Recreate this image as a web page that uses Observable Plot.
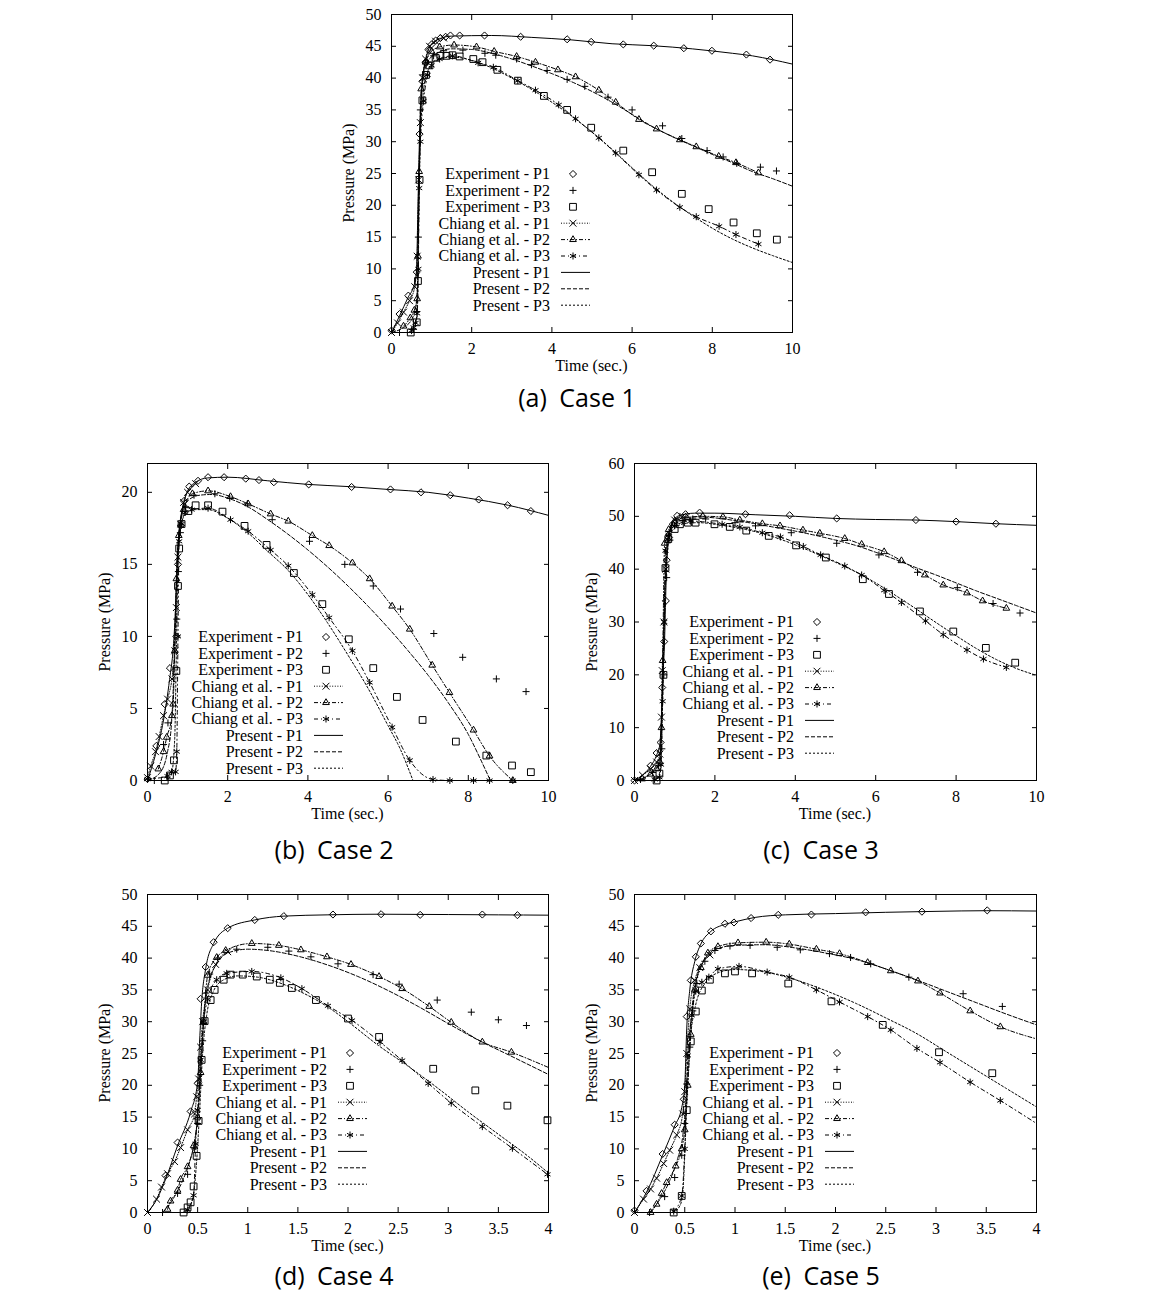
<!DOCTYPE html>
<html><head><meta charset="utf-8">
<script src="https://cdn.jsdelivr.net/npm/d3@7"></script>
<script src="https://cdn.jsdelivr.net/npm/@observablehq/plot@0.6"></script>
<style>
body{margin:0;background:#fff;}
#root{position:relative;width:1149px;height:1301px;overflow:hidden;background:#fff;}
.panel{position:absolute;}
.lab{position:absolute;font-family:"Liberation Serif",serif;font-size:16px;color:#000;white-space:nowrap;}
.cap{position:absolute;font-family:"Open Sans",sans-serif;font-size:25px;color:#000;white-space:nowrap;transform:translate(-50%,-50%);}
</style></head>
<body><div id="root"></div>
<script>
// ---------- tick values ----------
const ticksX10 = [0, 2, 4, 6, 8, 10];
const ticksX4 = [0, 0.5, 1, 1.5, 2, 2.5, 3, 3.5, 4];
const ticksY50 = [0, 5, 10, 15, 20, 25, 30, 35, 40, 45, 50];
const ticksY20 = [0, 5, 10, 15, 20];
const ticksY60 = [0, 10, 20, 30, 40, 50, 60];

const legendLabels = ["Experiment - P1", "Experiment - P2", "Experiment - P3",
  "Chiang et al. - P1", "Chiang et al. - P2", "Chiang et al. - P3",
  "Present - P1", "Present - P2", "Present - P3"];
const captions = ["(a)\u2002Case 1", "(b)\u2002Case 2", "(c)\u2002Case 3", "(d)\u2002Case 4", "(e)\u2002Case 5"];
const xLabel = "Time (sec.)";
const yLabel = "Pressure (MPa)";

// ---------- Case 1 : [time (s), pressure (MPa)] ----------
const c1ExpP1 = [[0,0.3],[0.2,2.9],[0.42,5.8],[0.63,9.5],[0.7,31.2],[0.77,39.5],[0.85,42.5],[0.92,44.5],[1.0,45.3],[1.1,45.9],[1.22,46.3],[1.35,46.5],[1.47,46.7],[1.7,46.7],[2.32,46.7],[3.22,46.5],[4.38,46.1],[4.98,45.7],[5.78,45.3],[6.54,45.1],[7.29,44.7],[7.99,44.3],[8.85,43.7],[9.44,42.9]];
const c1ExpP2 = [[0.2,0],[0.55,0.5],[0.63,3.3],[0.67,15],[0.72,35],[0.78,40.5],[0.9,42.5],[1.05,43.5],[1.3,44.3],[1.78,44.4],[2.33,43.9],[2.6,43.6],[3.12,43.0],[3.49,42.1],[3.88,41.2],[4.38,39.8],[4.82,38.7],[5.4,37.0],[6.0,35.0],[6.76,32.5],[7.24,30.5],[7.87,28.6],[8.27,27.6],[8.61,26.6],[9.2,26.0],[9.6,25.4]];
const c1ExpP3 = [[0.48,0],[0.63,1.6],[0.66,8.1],[0.7,24],[0.77,36.5],[0.86,40.5],[0.95,42],[1.1,43.2],[1.22,43.5],[1.37,43.5],[1.52,43.6],[1.7,43.4],[2.04,43.0],[2.27,42.5],[2.64,41.3],[3.15,39.6],[3.8,37.2],[4.38,35.0],[4.98,32.2],[5.78,28.6],[6.5,25.2],[7.24,21.8],[7.91,19.4],[8.53,17.3],[9.11,15.6],[9.61,14.6]];
const c1ChiP1 = [[0,0],[0.15,1.5],[0.3,3.2],[0.45,5.0],[0.58,7.2],[0.64,12],[0.68,24],[0.72,33],[0.78,40],[0.85,43],[0.95,45],[1.1,45.8],[1.3,46.3]];
const c1ChiP2 = [[0.3,1.0],[0.47,2.3],[0.57,3.5],[0.64,5.3],[0.66,12],[0.69,25.3],[0.74,38.3],[0.85,42.5],[1.0,44.2],[1.2,44.9],[1.56,45.2],[2.12,44.9],[2.56,44.2],[3.12,43.4],[3.59,42.5],[4.15,41.3],[4.59,40.2],[5.17,38.1],[5.59,36.2],[6.17,33.5],[6.61,32.0],[7.19,30.3],[7.6,29.2],[8.16,27.7],[8.59,26.7],[9.15,25.1]];
const c1ChiP3 = [[0.5,0.3],[0.55,0.8],[0.6,1.5],[0.64,3],[0.67,10],[0.69,22.7],[0.72,30],[0.8,36.4],[0.9,40.5],[1.0,42],[1.2,43],[1.52,43.5],[2.16,42.4],[2.54,41.7],[3.15,39.6],[3.59,38.1],[4.17,35.8],[4.59,33.6],[5.17,30.6],[5.59,28.2],[6.17,24.8],[6.61,22.4],[7.19,19.7],[7.6,18.2],[8.17,16.7],[8.59,15.4],[9.15,13.9]];
const c1PreP1 = [[0,0],[0.2,2.6],[0.42,5.6],[0.55,7.2],[0.62,9.2],[0.66,20],[0.7,31],[0.76,39],[0.84,42.4],[0.92,44.4],[1.0,45.3],[1.2,46.2],[1.5,46.6],[2.5,46.7],[3.5,46.4],[4.5,46.0],[5.5,45.4],[6.5,45.1],[7.5,44.6],[8.5,43.9],[9.0,43.5],[9.5,42.9],[10,42.2]];
const c1PreP2 = [[0,0],[0.3,0.8],[0.5,2],[0.6,3.8],[0.65,8],[0.68,20],[0.72,33],[0.78,39.5],[0.9,42.5],[1.1,43.8],[1.5,44.6],[2,44.5],[2.5,43.9],[3,43.0],[3.5,41.9],[4,40.7],[4.5,39.4],[5,37.9],[5.5,36.2],[6,34.3],[6.5,32.4],[7,30.8],[7.5,29.4],[8,28.0],[8.5,26.7],[9,25.3],[9.5,24.2],[10,23.0]];
const c1PreP3 = [[0.45,0],[0.6,1],[0.65,5],[0.68,18],[0.72,30],[0.78,37],[0.9,41],[1.1,42.8],[1.5,43.3],[2,42.8],[2.5,41.6],[3,40.0],[3.5,38.2],[4,36.2],[4.5,34.0],[5,31.5],[5.5,28.8],[6,25.9],[6.5,23.1],[7,20.6],[7.5,18.4],[8,16.4],[8.5,14.7],[9,13.3],[9.5,12.1],[10,11.0]];

// ---------- Case 2 ----------
const c2ExpP1 = [[0,0.1],[0.22,2.4],[0.43,5.3],[0.56,7.8],[0.72,10.0],[0.76,15.0],[0.83,17.7],[0.91,19.4],[1.04,20.4],[1.26,20.8],[1.51,21.05],[1.91,21.05],[2.45,20.95],[2.78,20.85],[3.15,20.7],[4.02,20.55],[5.09,20.37],[6.06,20.2],[6.82,20.0],[7.55,19.8],[8.26,19.5],[8.98,19.1],[9.56,18.7]];
const c2ExpP2 = [[0.17,0],[0.4,2.5],[0.51,4.0],[0.73,11.2],[0.77,14.5],[0.82,17.2],[0.95,19.0],[1.16,19.8],[1.68,19.9],[2.05,19.6],[2.49,19.2],[3.11,18.1],[4.04,16.6],[4.92,15.0],[5.63,13.5],[6.31,11.9],[7.14,10.2],[7.86,8.55],[8.7,7.05],[9.44,6.17]];
const c2ExpP3 = [[0.43,0],[0.56,0.35],[0.66,1.4],[0.72,7.6],[0.76,13.5],[0.79,16.1],[0.85,17.8],[1.02,18.7],[1.2,19.1],[1.51,19.1],[1.87,18.66],[2.42,17.67],[2.97,16.35],[3.65,14.4],[4.36,12.24],[5.02,9.8],[5.63,7.8],[6.22,5.8],[6.86,4.2],[7.69,2.7],[8.45,1.73],[9.09,1.04],[9.56,0.58],[10,0.46]];
const c2ChiP1 = [[0,0.2],[0.08,1.0],[0.2,2.0],[0.29,3.05],[0.4,4.5],[0.5,5.65],[0.61,7.05],[0.68,9],[0.72,12],[0.76,15.5],[0.82,17.8],[0.9,19.3],[1.0,20.0],[1.2,20.6]];
const c2ChiP2 = [[0.27,0.8],[0.4,2.0],[0.48,3.0],[0.61,4.5],[0.64,5.3],[0.68,9],[0.72,14],[0.78,17],[0.9,18.8],[1.12,19.9],[1.51,20.1],[2.07,19.7],[2.51,19.2],[3.07,18.5],[3.51,18.0],[4.11,17.0],[4.53,16.3],[5.11,15.1],[5.54,14.0],[6.1,12.1],[6.54,10.5],[7.1,8.0],[7.53,6.1],[8.13,3.5],[8.53,1.7],[9.11,0]];
const c2ChiP3 = [[0,0.1],[0.5,0.3],[0.6,0.6],[0.7,0.6],[0.73,2],[0.76,10],[0.79,16.6],[0.85,17.8],[0.94,18.6],[1.1,18.8],[1.51,18.9],[2.07,18.1],[2.51,17.3],[3.07,16.0],[3.51,14.9],[4.11,12.9],[4.53,11.3],[5.11,9.0],[5.54,6.8],[6.1,3.7],[6.54,1.4],[7.12,0.07],[7.54,0],[8.13,0],[8.53,0],[9.11,0]];
const c2PreP1 = [[0,0],[0.2,1.8],[0.4,4.2],[0.55,7],[0.65,9.5],[0.7,12],[0.74,15],[0.8,17.5],[0.9,19.2],[1.0,20.1],[1.2,20.7],[1.5,21.0],[2,21.05],[3,20.8],[4,20.55],[5,20.4],[6,20.2],[7,20.0],[8,19.6],[9,19.1],[10,18.4]];
const c2PreP2 = [[0,0],[0.3,0.5],[0.5,2],[0.6,4],[0.65,7],[0.7,12],[0.75,16],[0.85,18.5],[1.0,19.4],[1.3,19.8],[1.6,19.85],[2,19.6],[2.5,19.0],[3,18.1],[3.5,17.1],[4,16.0],[4.5,14.8],[5,13.5],[5.5,12.1],[6,10.6],[6.5,9.0],[7,7.3],[7.5,5.4],[8,3.2],[8.3,1.5],[8.55,0]];
const c2PreP3 = [[0.45,0],[0.6,0.5],[0.68,3],[0.72,9],[0.76,15],[0.82,17.5],[0.95,18.5],[1.2,18.8],[1.5,18.8],[2,18.2],[2.5,17.2],[3,15.9],[3.5,14.6],[4,12.9],[4.5,10.9],[5,8.7],[5.5,6.4],[6,3.8],[6.3,2.2],[6.62,0]];

// ---------- Case 3 ----------
const c3ExpP1 = [[0,0],[0.4,2.8],[0.55,5.2],[0.65,7.2],[0.69,17.6],[0.74,26.3],[0.78,34],[0.8,41.7],[0.86,46],[0.95,48.5],[1.06,50.1],[1.27,50.4],[1.62,50.7],[2.76,50.4],[3.86,50.2],[5.03,49.6],[7.0,49.3],[8.0,49.0],[8.99,48.6]];
const c3ExpP2 = [[0.15,0.2],[0.45,1.5],[0.6,2.8],[0.68,6],[0.73,20],[0.8,38.4],[0.88,45.5],[1.0,48.3],[1.2,49.2],[1.45,49.5],[1.77,49.5],[2.5,48.8],[3.01,48.2],[3.9,46.9],[5.03,44.9],[6.08,42.7],[7.04,39.4],[8.03,36.5],[8.92,33.5],[9.59,31.7]];
const c3ExpP3 = [[0.55,0],[0.62,1.3],[0.72,20.0],[0.77,40.2],[0.84,45.7],[1.0,47.6],[1.13,48.5],[1.33,48.8],[1.52,48.8],[1.99,48.5],[2.37,48.0],[2.78,47.3],[3.34,46.3],[4.02,44.5],[4.76,42.2],[5.68,38.1],[6.33,35.3],[7.1,32.0],[7.93,28.2],[8.74,25.1],[9.47,22.3]];
const c3ChiP1 = [[0,0],[0.2,1],[0.4,2.2],[0.55,3.5],[0.63,5],[0.67,12],[0.69,20.8],[0.73,30],[0.78,40],[0.85,46],[1.0,49.3],[1.2,50]];
const c3ChiP2 = [[0.19,0.3],[0.4,1.2],[0.55,2.2],[0.63,3.5],[0.67,10],[0.7,22.7],[0.75,44.9],[0.85,47.5],[1.0,49.1],[1.3,49.7],[1.7,50.0],[2.2,49.9],[2.62,49.3],[3.18,48.6],[3.62,48.2],[4.19,47.4],[4.61,46.8],[5.23,45.8],[5.65,44.7],[6.21,43.3],[6.64,41.6],[7.22,38.9],[7.68,37.0],[8.27,35.5],[8.66,34.0],[9.25,32.6]];
const c3ChiP3 = [[0.5,0.2],[0.62,0.6],[0.66,3],[0.7,15],[0.74,30],[0.77,43.5],[0.85,46.5],[1.0,48.2],[1.39,49.1],[2.18,48.5],[2.62,48.0],[3.18,46.9],[3.63,46.1],[4.2,44.3],[4.63,42.7],[5.23,40.6],[5.65,38.9],[6.21,36.0],[6.64,33.7],[7.24,30.2],[7.68,27.6],[8.27,24.7],[8.68,23.0],[9.25,21.4]];
const c3PreP1 = [[0,0],[0.2,1],[0.4,2.7],[0.55,4.8],[0.63,6.8],[0.67,12],[0.71,20],[0.75,27],[0.78,36],[0.81,42],[0.86,46],[0.95,48.8],[1.1,50.1],[1.5,50.6],[2,50.6],[3,50.3],[4,50.0],[5,49.6],[6,49.4],[7,49.3],[8,49.0],[9,48.6],[10,48.3]];
const c3PreP2 = [[0,0],[0.3,0.8],[0.55,2.5],[0.63,4],[0.67,10],[0.71,22],[0.75,35],[0.8,44],[0.9,48],[1.0,49.3],[1.3,49.8],[1.6,49.9],[2,49.7],[2.5,49.2],[3,48.6],[3.5,47.9],[4,47.2],[4.5,46.4],[5,45.5],[5.5,44.5],[6,43.2],[6.5,41.8],[7,40.3],[7.5,38.9],[8,37.4],[8.5,35.9],[9,34.5],[9.5,33.1],[10,31.7]];
const c3PreP3 = [[0.5,0],[0.6,0.8],[0.66,4],[0.7,15],[0.74,30],[0.78,40],[0.85,45.5],[1.0,47.8],[1.3,48.7],[1.6,48.8],[2,48.5],[2.5,47.9],[3,47.1],[3.5,46.0],[4,44.6],[4.5,43.0],[5,41.3],[5.5,39.5],[6,37.4],[6.5,35.0],[7,32.5],[7.5,29.9],[8,27.4],[8.5,25.0],[9,22.9],[9.5,21.2],[10,19.9]];

// ---------- Case 4 ----------
const c4ExpP1 = [[0.18,5.8],[0.3,11.0],[0.43,15.9],[0.5,20.3],[0.53,33.6],[0.58,38.6],[0.66,42.5],[0.8,44.7],[1.07,46.0],[1.36,46.6],[1.85,46.85],[2.33,46.9],[2.72,46.8],[3.34,46.85],[3.69,46.75]];
const c4ExpP2 = [[0.15,0],[0.3,3],[0.4,6],[0.47,10],[0.5,14],[0.52,20],[0.55,27],[0.58,34.5],[0.62,37.5],[0.7,40],[0.89,41.4],[1.2,41.7],[1.41,41.1],[1.63,40.2],[1.9,39.1],[2.25,37.4],[2.51,35.9],[2.89,33.4],[3.23,31.5],[3.5,30.3],[3.78,29.4]];
const c4ExpP3 = [[0.36,0],[0.4,0.8],[0.43,1.6],[0.46,4.1],[0.49,8.9],[0.51,14.4],[0.54,24.0],[0.57,30.1],[0.63,33.4],[0.67,35.0],[0.76,36.6],[0.83,37.4],[0.95,37.4],[1.09,37.1],[1.22,36.6],[1.32,36.1],[1.44,35.3],[1.68,33.4],[2.0,30.5],[2.31,27.6],[2.85,22.6],[3.27,19.2],[3.59,16.8],[3.99,14.5]];
const c4ChiP1 = [[0,0],[0.09,2.1],[0.14,4.0],[0.2,6.1],[0.27,8.0],[0.33,10.2],[0.4,13.0],[0.47,15.5],[0.49,18.2],[0.51,21],[0.53,26],[0.55,30],[0.6,35],[0.68,39],[0.8,41]];
const c4ChiP2 = [[0.2,0.5],[0.23,1.8],[0.3,3.5],[0.33,5.2],[0.4,7.2],[0.46,10.5],[0.5,15],[0.53,22],[0.56,30],[0.6,37.3],[0.69,40.1],[0.78,41.2],[1.04,42.3],[1.31,42.0],[1.53,41.3],[1.79,40.2],[2.03,39.0],[2.31,37.1],[2.54,35.2],[2.81,32.4],[3.03,29.9],[3.34,26.8],[3.63,25.2],[4,22.8]];
const c4ChiP3 = [[0.4,0.4],[0.46,2.7],[0.48,10.8],[0.5,16.1],[0.53,24],[0.56,30],[0.6,33.5],[0.69,36.6],[0.79,37.6],[1.04,37.9],[1.33,36.9],[1.54,35.2],[1.8,32.5],[2.04,30.2],[2.32,26.8],[2.54,23.9],[2.8,20.3],[3.03,17.2],[3.34,13.5],[3.64,10.1],[3.99,6.0]];
const c4PreP1 = [[0,0],[0.1,2.3],[0.18,5.2],[0.3,10.5],[0.43,15.8],[0.5,20.5],[0.52,27],[0.54,33],[0.58,38.3],[0.66,42.3],[0.8,44.7],[1.07,46.0],[1.36,46.6],[1.8,46.8],[2.3,46.9],[3,46.85],[3.5,46.8],[4,46.75]];
const c4PreP2 = [[0.15,0],[0.25,2],[0.35,5],[0.43,8.5],[0.48,12],[0.5,15],[0.53,22],[0.56,30],[0.6,35.5],[0.7,39.3],[0.8,40.8],[1.0,41.4],[1.2,41.2],[1.5,40.3],[1.8,38.9],[2.1,37.1],[2.4,34.9],[2.7,32.4],[3.0,29.7],[3.3,27.1],[3.6,24.8],[4,21.7]];
const c4PreP3 = [[0.35,0],[0.42,1],[0.46,3],[0.49,8],[0.52,16],[0.55,25],[0.59,31],[0.65,34.5],[0.75,36.5],[0.9,37.2],[1.1,37.0],[1.3,36.2],[1.5,34.9],[1.8,32.3],[2.0,30.0],[2.3,26.3],[2.6,23.0],[2.9,19.5],[3.2,15.8],[3.5,12.3],[3.8,8.8],[4,6.2]];

// ---------- Case 5 ----------
const c5ExpP1 = [[0,0.3],[0.12,3.4],[0.28,9.2],[0.4,13.8],[0.49,17.8],[0.52,30.8],[0.56,36.5],[0.61,40.2],[0.66,42.3],[0.76,44.2],[0.9,45.4],[0.99,45.6],[1.16,46.3],[1.43,46.8],[1.76,46.85],[2.3,47.2],[2.86,47.3],[3.51,47.5]];
const c5ExpP2 = [[0.15,0],[0.3,2.5],[0.4,5.5],[0.47,9],[0.5,14],[0.52,20.2],[0.55,26],[0.58,31.7],[0.62,36],[0.7,39.5],[0.8,41.2],[0.95,41.9],[1.15,42.0],[1.42,41.7],[1.65,41.3],[1.94,40.7],[2.15,40.1],[2.35,39.1],[2.73,37.0],[3.27,34.4],[3.66,32.4]];
const c5ExpP3 = [[0.39,0],[0.47,2.6],[0.52,16.1],[0.56,26.9],[0.61,31.6],[0.67,34.9],[0.75,36.6],[0.9,37.6],[1.0,37.9],[1.17,37.6],[1.53,36.0],[1.96,33.2],[2.47,29.5],[3.03,25.2],[3.56,21.9],[4.0,19.3]];
const c5ChiP1 = [[0,0],[0.09,2.1],[0.16,3.7],[0.22,5.4],[0.29,7.7],[0.35,9.8],[0.42,12.2],[0.48,15.5],[0.5,19],[0.52,25],[0.55,32],[0.6,36.5],[0.65,38.5],[0.75,40.5]];
const c5ChiP2 = [[0.16,0],[0.22,1.3],[0.27,3.0],[0.32,4.7],[0.41,7.3],[0.47,10.0],[0.5,13],[0.53,20],[0.56,28],[0.6,35],[0.66,38.5],[0.73,40.8],[0.83,41.8],[1.03,42.4],[1.31,42.5],[1.54,42.2],[1.81,41.4],[2.04,40.7],[2.32,39.3],[2.55,38.0],[2.82,36.4],[3.04,34.5],[3.34,31.7],[3.64,29.2],[4,27.3]];
const c5ChiP3 = [[0.39,0.2],[0.47,2.6],[0.5,10],[0.53,24.7],[0.57,31],[0.61,34.8],[0.67,36.2],[0.74,37.0],[0.83,38.3],[1.04,38.7],[1.32,37.8],[1.54,37.0],[1.81,35.0],[2.04,33.1],[2.32,30.8],[2.55,28.7],[2.81,25.8],[3.04,23.6],[3.34,20.5],[3.64,17.6],[4,14.0]];
const c5PreP1 = [[0,0],[0.12,3.2],[0.28,9.0],[0.4,13.6],[0.47,16.5],[0.5,20],[0.52,29],[0.55,35],[0.6,39.5],[0.66,42.2],[0.76,44.2],[0.9,45.3],[1.0,45.7],[1.2,46.4],[1.5,46.8],[2,47.0],[2.5,47.2],[3,47.35],[3.5,47.45],[4,47.4]];
const c5PreP2 = [[0.15,0],[0.25,2],[0.35,5],[0.43,8.5],[0.48,12],[0.5,15],[0.53,23],[0.56,30],[0.6,35.5],[0.7,39.8],[0.8,41.3],[1.0,42.0],[1.3,42.1],[1.6,41.6],[1.9,40.8],[2.2,39.8],[2.5,38.3],[2.8,36.6],[3.1,34.8],[3.4,33.0],[3.7,31.2],[4,29.5]];
const c5PreP3 = [[0.38,0],[0.45,1],[0.48,3],[0.5,9],[0.52,17],[0.55,26],[0.6,32],[0.7,36],[0.85,37.8],[1.0,38.2],[1.3,37.8],[1.6,36.6],[1.9,34.9],[2.2,32.9],[2.5,30.6],[2.8,28.2],[3.1,25.3],[3.4,22.4],[3.7,19.5],[4,16.6]];

// ---------- styles ----------
const KEYS = ["expP1","expP2","expP3","chiP1","chiP2","chiP3","preP1","preP2","preP3"];
const STYLE = {
  expP1: {symbol: "diamond2", d3sym: d3.symbolDiamond2, r: 3.2},
  expP2: {symbol: "plus", d3sym: d3.symbolPlus, r: 2.4},
  expP3: {symbol: "square2", d3sym: d3.symbolSquare2, r: 4.3},
  chiP1: {symbol: "times", d3sym: d3.symbolTimes, r: 3.2, dash: "1,1.6"},
  chiP2: {symbol: "triangle2", d3sym: d3.symbolTriangle2, r: 3.2, dash: "4,2,1,2"},
  chiP3: {symbol: "asterisk", d3sym: d3.symbolAsterisk, r: 3.3, dash: "4,3,1,3"},
  preP1: {dash: null},
  preP2: {dash: "4,2"},
  preP3: {dash: "2,2"}
};
const INK = "#000";

const panels = [
  {x0:391, x1:792, y0:14, y1:332, xDomain:[0,10], yDomain:[0,50], xTicks:ticksX10, yTicks:ticksY50,
   s:{expP1:c1ExpP1,expP2:c1ExpP2,expP3:c1ExpP3,chiP1:c1ChiP1,chiP2:c1ChiP2,chiP3:c1ChiP3,preP1:c1PreP1,preP2:c1PreP2,preP3:c1PreP3},
   legRight:550, legTop:174, cap:captions[0], capX:577, capY:397},
  {x0:147, x1:548, y0:463, y1:780, xDomain:[0,10], yDomain:[0,22], xTicks:ticksX10, yTicks:ticksY20,
   s:{expP1:c2ExpP1,expP2:c2ExpP2,expP3:c2ExpP3,chiP1:c2ChiP1,chiP2:c2ChiP2,chiP3:c2ChiP3,preP1:c2PreP1,preP2:c2PreP2,preP3:c2PreP3},
   legRight:303, legTop:636.7, cap:captions[1], capX:334, capY:849},
  {x0:634, x1:1036, y0:463, y1:780, xDomain:[0,10], yDomain:[0,60], xTicks:ticksX10, yTicks:ticksY60,
   s:{expP1:c3ExpP1,expP2:c3ExpP2,expP3:c3ExpP3,chiP1:c3ChiP1,chiP2:c3ChiP2,chiP3:c3ChiP3,preP1:c3PreP1,preP2:c3PreP2,preP3:c3PreP3},
   legRight:794, legTop:621.7, cap:captions[2], capX:821, capY:849},
  {x0:147, x1:548, y0:894, y1:1212, xDomain:[0,4], yDomain:[0,50], xTicks:ticksX4, yTicks:ticksY50,
   s:{expP1:c4ExpP1,expP2:c4ExpP2,expP3:c4ExpP3,chiP1:c4ChiP1,chiP2:c4ChiP2,chiP3:c4ChiP3,preP1:c4PreP1,preP2:c4PreP2,preP3:c4PreP3},
   legRight:327, legTop:1053.3, cap:captions[3], capX:334, capY:1275},
  {x0:634, x1:1036, y0:894, y1:1212, xDomain:[0,4], yDomain:[0,50], xTicks:ticksX4, yTicks:ticksY50,
   s:{expP1:c5ExpP1,expP2:c5ExpP2,expP3:c5ExpP3,chiP1:c5ChiP1,chiP2:c5ChiP2,chiP3:c5ChiP3,preP1:c5PreP1,preP2:c5PreP2,preP3:c5PreP3},
   legRight:814, legTop:1053.3, cap:captions[4], capX:821, capY:1275}
];

const root = document.getElementById("root");
const ML = 50, MR = 16, MT = 12, MB = 34;
const fmt = d => String(d);

for (const p of panels) {
  const w = p.x1 - p.x0, h = p.y1 - p.y0;
  const marks = [];
  for (const k of ["preP1","preP2","preP3","chiP1","chiP2","chiP3"]) {
    marks.push(Plot.line(p.s[k], {x: d => d[0], y: d => d[1], stroke: INK, strokeWidth: 1,
      strokeDasharray: STYLE[k].dash || undefined, curve: "monotone-x", clip: true}));
  }
  for (const k of ["chiP1","chiP2","chiP3","expP1","expP2","expP3"]) {
    const pts = p.s[k].filter(d => d[0] < p.xDomain[1] - 1e-9);
    marks.push(Plot.dot(pts, {x: d => d[0], y: d => d[1], symbol: STYLE[k].symbol, r: STYLE[k].r,
      stroke: INK, strokeWidth: 1, fill: "none"}));
  }
  marks.push(
    Plot.axisY(p.yTicks, {anchor: "left", tickSize: -5, tickPadding: 15, tickFormat: fmt, label: null, fontSize: 16}),
    Plot.axisY(p.yTicks, {anchor: "right", tickSize: -5, tickFormat: () => "", label: null}),
    Plot.axisX(p.xTicks, {anchor: "bottom", tickSize: -5, tickPadding: 15, tickFormat: fmt, label: null, fontSize: 16}),
    Plot.axisX(p.xTicks, {anchor: "top", tickSize: -5, tickFormat: () => "", label: null}),
    Plot.frame({stroke: INK, strokeWidth: 1})
  );
  const svg = Plot.plot({
    width: w + ML + MR, height: h + MT + MB,
    marginLeft: ML, marginRight: MR, marginTop: MT, marginBottom: MB,
    x: {domain: p.xDomain}, y: {domain: p.yDomain},
    style: {background: "transparent", fontFamily: "'Liberation Serif', serif", fontSize: "16px", color: INK, overflow: "visible"},
    marks
  });
  svg.classList.add("panel");
  svg.style.left = (p.x0 - ML) + "px";
  svg.style.top = (p.y0 - MT) + "px";
  svg.style.position = "absolute";
  root.appendChild(svg);

  // axis titles
  const yl = document.createElement("div");
  yl.className = "lab"; yl.textContent = yLabel;
  yl.style.left = (p.x0 - 42) + "px"; yl.style.top = ((p.y0 + p.y1) / 2) + "px";
  yl.style.transform = "translate(-50%,-50%) rotate(-90deg)";
  root.appendChild(yl);
  const xl = document.createElement("div");
  xl.className = "lab"; xl.textContent = xLabel;
  xl.style.left = ((p.x0 + p.x1) / 2) + "px"; xl.style.top = (p.y1 + 34) + "px";
  xl.style.transform = "translate(-50%,-50%)";
  root.appendChild(xl);

  // legend (key) inside the plot area
  const rowH = 16.4, LW = 170;
  const leg = d3.create("svg").attr("width", LW + 50).attr("height", rowH * 9 + 10)
    .style("position", "absolute").style("overflow", "visible")
    .style("left", (p.legRight - LW) + "px").style("top", (p.legTop - 8) + "px");
  KEYS.forEach((k, i) => {
    const cy = 8 + i * rowH;
    leg.append("text").attr("x", LW).attr("y", cy + 5.4).attr("text-anchor", "end")
      .attr("font-family", "'Liberation Serif', serif").attr("font-size", 16).attr("fill", INK)
      .text(legendLabels[i]);
    const st = STYLE[k];
    if (k.startsWith("chi") || k.startsWith("pre")) {
      leg.append("line").attr("x1", LW + 11).attr("x2", LW + 40).attr("y1", cy).attr("y2", cy)
        .attr("stroke", INK).attr("stroke-width", 1).attr("stroke-dasharray", st.dash || null);
    }
    if (st.d3sym) {
      leg.append("path").attr("transform", `translate(${LW + 23},${cy})`)
        .attr("d", d3.symbol(st.d3sym, st.r * st.r * Math.PI)())
        .attr("fill", "none").attr("stroke", INK).attr("stroke-width", 1);
    }
  });
  root.appendChild(leg.node());

  const cap = document.createElement("div");
  cap.className = "cap"; cap.textContent = p.cap;
  cap.style.left = p.capX + "px"; cap.style.top = p.capY + "px";
  root.appendChild(cap);
}
</script>
</body></html>
